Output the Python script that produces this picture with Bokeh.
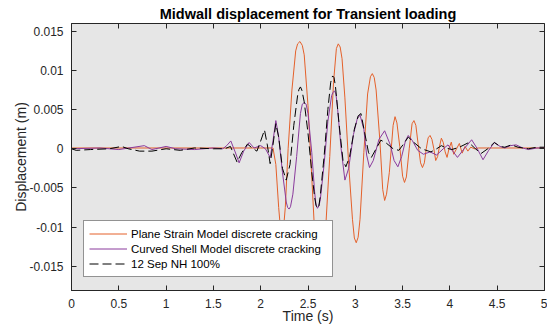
from bokeh.plotting import figure
from bokeh.models import (Range1d, FixedTicker, CustomJSTickFormatter, LinearAxis,
                          Legend, LegendItem)
from bokeh.embed import file_html
from bokeh.resources import INLINE

# ---------------- data ----------------
title_text = "Midwall displacement for Transient loading"
x_label = "Time (s)"
y_label = "Displacement (m)"
x_ticks = [0, 0.5, 1, 1.5, 2, 2.5, 3, 3.5, 4, 4.5, 5]
y_ticks = [-0.015, -0.01, -0.005, 0, 0.005, 0.01, 0.015]

plane_t = [0.0, 1.0, 2.0, 2.13, 2.16, 2.19, 2.225, 2.26, 2.29, 2.33, 2.37, 2.39, 2.415,
           2.44, 2.46, 2.50, 2.535, 2.565, 2.60, 2.625, 2.65, 2.69, 2.73, 2.77, 2.80,
           2.82, 2.84, 2.86, 2.89, 2.93, 2.97, 2.99, 3.01, 3.03, 3.05, 3.09, 3.13, 3.16,
           3.18, 3.20, 3.22, 3.26, 3.29, 3.31, 3.33, 3.36, 3.40, 3.42, 3.44, 3.47, 3.50,
           3.52, 3.54, 3.57, 3.60, 3.62, 3.64, 3.665, 3.69, 3.71, 3.73, 3.75, 3.77,
           3.79, 3.81, 3.83, 3.85, 3.87, 3.89, 3.91, 3.93, 3.95, 3.97, 3.99, 4.015,
           4.04, 4.07, 4.10, 4.13, 4.16, 4.19, 4.22, 4.26, 4.30, 5.0]
plane_d = [0.0001, 0.0001, 0.0001, 0.0001, -0.002, -0.0075, -0.0125, -0.0075, 0.0,
           0.0075, 0.0125, 0.0134, 0.0137, 0.0132, 0.0120, 0.0055, -0.0025, -0.0095,
           -0.0140, -0.0148, -0.0140, -0.0095, -0.0010, 0.0085, 0.0128, 0.0134, 0.0130,
           0.0115, 0.0065, -0.0020, -0.0090, -0.0114, -0.0120, -0.0113, -0.0090,
           -0.0005, 0.0070, 0.0092, 0.0096, 0.0091, 0.0075, 0.0010, -0.0052, -0.0066,
           -0.0058, -0.0030, 0.0030, 0.0041, 0.0033, 0.0003, -0.0035, -0.0043, -0.0036,
           0.0, 0.0032, 0.0036, 0.0030, 0.0005, -0.0018, -0.0024, -0.0018, 0.0, 0.0014,
           0.0017, 0.0012, 0.0, -0.0015, -0.0010, 0.0003, 0.00135, 0.0008, -0.0004,
           -0.0011, 0.0, 0.00085, -0.0007, 0.0, 0.00068, -0.00056, 0.0003, -0.0003,
           0.0002, 0.0, 0.0001, 0.0001]

shell_t = [0.0, 0.3, 0.5, 0.77, 0.85, 1.0, 1.1, 1.3, 1.5, 1.6, 1.64, 1.684, 1.73,
           1.772, 1.82, 1.878, 1.93, 2.0, 2.05, 2.10, 2.13, 2.16, 2.19, 2.23, 2.27,
           2.285, 2.30, 2.315, 2.34, 2.38, 2.42, 2.44, 2.46, 2.48, 2.50, 2.54, 2.57,
           2.585, 2.60, 2.615, 2.63, 2.67, 2.71, 2.75, 2.765, 2.78, 2.795, 2.81, 2.85,
           2.89, 2.93, 2.98, 3.02, 3.05, 3.09, 3.12, 3.15, 3.19, 3.25, 3.31, 3.37,
           3.41, 3.45, 3.49, 3.53, 3.56, 3.60, 3.66, 3.72, 3.79, 3.86, 3.93, 3.98,
           4.03, 4.08, 4.15, 4.23, 4.29, 4.35, 4.41, 4.47, 4.53, 4.58, 4.64, 4.70,
           4.77, 4.83, 4.92, 5.0]
shell_d = [0.0, 0.0001, -0.0001, 0.0004, -0.0001, 0.0003, 0.0, -0.0001, 0.0001, 0.0,
           0.0004, 0.0010, -0.0004, -0.0018, -0.0003, 0.0008, 0.0001, 0.0004, 0.0,
           -0.0011, 0.0010, 0.0036, 0.0015, -0.0030, -0.0068, -0.0075, -0.0077,
           -0.0074, -0.0058, -0.0010, 0.0045, 0.0057, 0.0059, 0.0057, 0.0045, -0.0005,
           -0.0055, -0.0072, -0.0076, -0.0073, -0.0065, -0.0020, 0.0035, 0.0068,
           0.0072, 0.0074, 0.0070, 0.0055, 0.0, -0.0040, -0.0025, 0.0018, 0.0038,
           0.0043, 0.0025, -0.0008, -0.0024, -0.0015, 0.0012, 0.0023, 0.0005, -0.0015,
           -0.0023, -0.0010, 0.0010, 0.0017, 0.0011, -0.0002, -0.0007, -0.0004,
           -0.0008, 0.0, 0.0005, -0.0003, -0.0011, 0.0, 0.00115, 0.0, -0.0014, -0.0002,
           0.0008, 0.0003, 0.0001, 0.0004, 0.0005, 0.0001, -0.0001, 0.0001, 0.0001]

exp_t = [0.0, 0.05, 0.2, 0.4, 0.53, 0.6, 0.72, 0.85, 1.0, 1.15, 1.3, 1.5, 1.62, 1.68,
         1.75, 1.80, 1.86, 1.91, 1.96, 2.0, 2.04, 2.07, 2.10, 2.13, 2.16, 2.19, 2.23,
         2.27, 2.31, 2.35, 2.39, 2.405, 2.42, 2.435, 2.46, 2.50, 2.54, 2.57, 2.585,
         2.60, 2.615, 2.63, 2.67, 2.71, 2.74, 2.76, 2.775, 2.79, 2.83, 2.87, 2.90,
         2.94, 2.99, 3.03, 3.06, 3.10, 3.14, 3.17, 3.22, 3.27, 3.33, 3.40, 3.46,
         3.51, 3.56, 3.62, 3.70, 3.80, 3.86, 3.91, 3.96, 4.02, 4.10, 4.20, 4.27,
         4.33, 4.40, 4.47, 4.53, 4.58, 4.65, 4.72, 4.83, 4.92, 5.0]
exp_d = [0.0, -0.0002, -0.0001, 0.0, 0.0003, 0.0, -0.0003, -0.0003, 0.0, -0.0002,
         0.0001, 0.0, 0.0, 0.0003, -0.0017, -0.0005, 0.0006, 0.0001, -0.0003, 0.0010,
         0.0024, 0.0005, -0.0019, 0.0005, 0.0032, 0.0015, -0.0025, -0.0040, -0.0020,
         0.0030, 0.0068, 0.0076, 0.0079, 0.0075, 0.0060, 0.0020, -0.0030, -0.0062,
         -0.0072, -0.0076, -0.0073, -0.0060, -0.0010, 0.0050, 0.0085, 0.0093, 0.0091,
         0.0080, 0.0030, -0.0015, -0.0023, -0.0010, 0.0025, 0.0042, 0.0045, 0.0020,
         -0.0005, -0.0011, 0.0, 0.0011, 0.0007, 0.0, -0.0002, 0.0006, 0.0015, 0.0008,
         0.0, -0.0004, 0.0, 0.0004, 0.0001, -0.0001, 0.0002, 0.0008, 0.0, -0.0006,
         0.0, 0.0008, 0.0003, 0.0002, 0.0005, 0.0002, 0.0, 0.0002, 0.0002]

series_names = ["Plane Strain Model discrete cracking",
                "Curved Shell Model discrete cracking",
                "12 Sep NH 100%"]

# ---------------- styling ----------------
FONT = "Liberation Sans"
INK = "#262626"

p = figure(width=547, height=329, output_backend="svg", toolbar_location=None,
           x_range=Range1d(0, 5), y_range=Range1d(-0.0181, 0.016),
           min_border_left=71, min_border_right=3, min_border_top=23,
           min_border_bottom=39)
p.background_fill_color = "#e6e6e6"
p.border_fill_color = "white"
p.outline_line_color = INK
p.outline_line_width = 1
p.xgrid.visible = False
p.ygrid.visible = False

p.title.text = title_text
p.title.align = "center"
p.title.text_font = FONT
p.title.text_font_size = "14.5px"
p.title.text_font_style = "bold"
p.title.text_color = "black"
p.title.standoff = 3
p.title.offset = 0

fmt = CustomJSTickFormatter(code="return String(Math.round(tick*1000)/1000);")
blank = CustomJSTickFormatter(code="return '';")

for ax, ticks in ((p.xaxis[0], x_ticks), (p.yaxis[0], y_ticks)):
    ax.ticker = FixedTicker(ticks=ticks)
    ax.formatter = fmt
    ax.major_tick_in = 5
    ax.major_tick_out = 0
    ax.minor_tick_line_color = None
    ax.major_tick_line_color = INK
    ax.axis_line_color = INK
    ax.major_label_text_font = FONT
    ax.major_label_text_font_size = "12px"
    ax.major_label_text_color = INK
    ax.axis_label_text_font = FONT
    ax.axis_label_text_font_size = "14px"
    ax.axis_label_text_font_style = "normal"
    ax.axis_label_text_color = INK
p.xaxis.axis_label = x_label
p.yaxis.axis_label = y_label
p.xaxis.major_label_standoff = 8
p.xaxis.axis_label_standoff = -3
p.yaxis.major_label_standoff = 8
p.yaxis.axis_label_standoff = -3

for loc, ticks in (("above", x_ticks), ("right", y_ticks)):
    ax = LinearAxis(ticker=FixedTicker(ticks=ticks), formatter=blank,
                    major_tick_in=5, major_tick_out=0,
                    minor_tick_line_color=None, major_tick_line_color=INK,
                    axis_line_color=None, major_label_text_font_size="1px",
                    major_label_standoff=0)
    p.add_layout(ax, loc)

r1 = p.line(plane_t, plane_d, line_color="#e4602a", line_width=1)
r2 = p.line(shell_t, shell_d, line_color="#8a3a9c", line_width=1)
r3 = p.line(exp_t, exp_d, line_color="black", line_width=1, line_dash="9 4")

legend = Legend(items=[LegendItem(label=series_names[0], renderers=[r1]),
                       LegendItem(label=series_names[1], renderers=[r2]),
                       LegendItem(label=series_names[2], renderers=[r3])],
                location=(12, 13))
legend.label_text_font = FONT
legend.label_text_font_size = "11.5px"
legend.label_text_color = "black"
legend.glyph_width = 38
legend.glyph_height = 15
legend.label_height = 15
legend.label_width = 196
legend.label_standoff = 4
legend.spacing = 0
legend.padding = 5
legend.margin = 0
legend.border_line_color = INK
legend.border_line_width = 1
legend.background_fill_color = "white"
legend.background_fill_alpha = 1
p.add_layout(legend, "center")

open("out.html", "w").write(file_html(p, INLINE))
